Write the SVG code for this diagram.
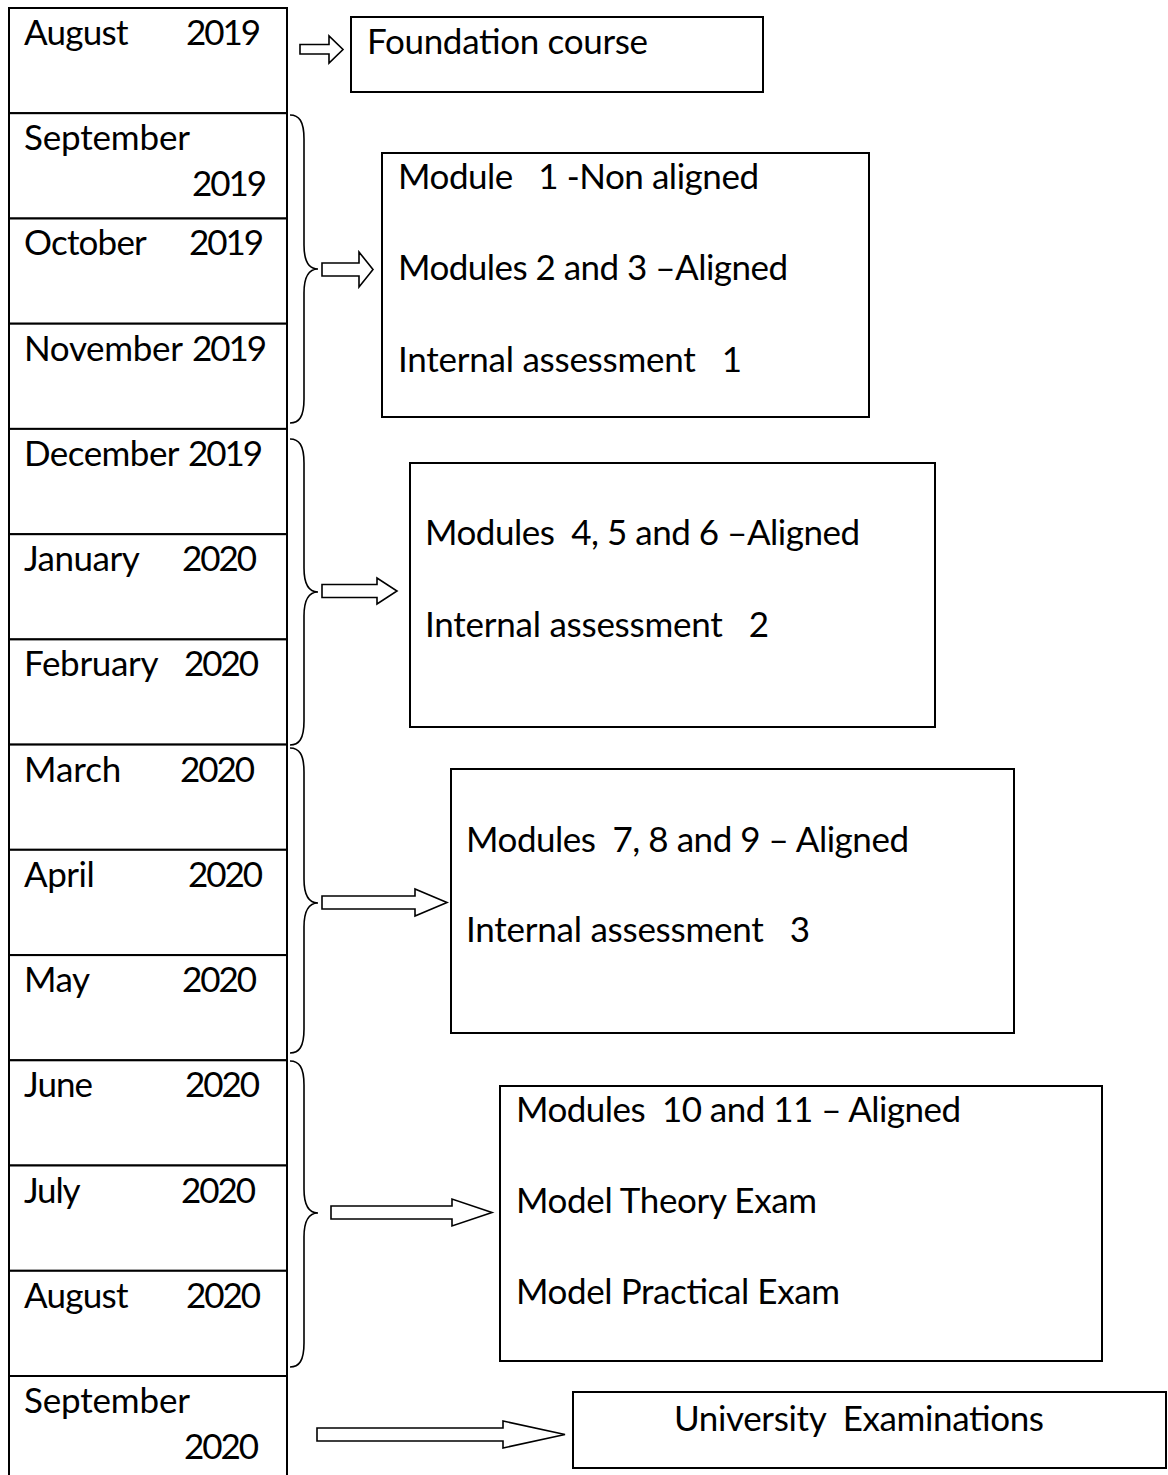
<svg xmlns="http://www.w3.org/2000/svg" width="1168" height="1475" viewBox="0 0 1168 1475" xml:space="preserve">
<style>
text { font-family: Lato, "Open Sans", "Liberation Sans", sans-serif; font-size: 35px; fill: #000; white-space: pre; }
.cell { fill: #fff; stroke: #000; stroke-width: 2; }
.box { fill: #fff; stroke: #000; stroke-width: 2; }
.brace { fill: none; stroke: #000; stroke-width: 1.6; }
.arrow { fill: #fff; stroke: #000; stroke-width: 1.6; stroke-linejoin: miter; }
</style>
<rect x="0" y="0" width="1168" height="1475" fill="#fff"/>

<g id="timeline">
  <g id="row-aug-2019"><rect class="cell" x="9" y="8" width="278" height="105.2"/><text x="24" y="45" textLength="104.6" lengthAdjust="spacing">August</text><text x="186" y="45" textLength="75" lengthAdjust="spacing">2019</text></g>
  <g id="row-sep-2019"><rect class="cell" x="9" y="113.2" width="278" height="105.3"/><text x="24" y="150" textLength="166" lengthAdjust="spacing">September</text><text x="192" y="196" textLength="75" lengthAdjust="spacing">2019</text></g>
  <g id="row-oct-2019"><rect class="cell" x="9" y="218.5" width="278" height="105.2"/><text x="24" y="255" textLength="122.8" lengthAdjust="spacing">October</text><text x="189" y="255" textLength="75" lengthAdjust="spacing">2019</text></g>
  <g id="row-nov-2019"><rect class="cell" x="9" y="323.7" width="278" height="105.2"/><text x="24" y="361" textLength="158.9" lengthAdjust="spacing">November</text><text x="192" y="361" textLength="75" lengthAdjust="spacing">2019</text></g>
  <g id="row-dec-2019"><rect class="cell" x="9" y="428.9" width="278" height="105.3"/><text x="24" y="466" textLength="155.6" lengthAdjust="spacing">December</text><text x="188" y="466" textLength="75" lengthAdjust="spacing">2019</text></g>
  <g id="row-jan-2020"><rect class="cell" x="9" y="534.2" width="278" height="105.2"/><text x="24" y="571" textLength="115.8" lengthAdjust="spacing">January</text><text x="182" y="571" textLength="75" lengthAdjust="spacing">2020</text></g>
  <g id="row-feb-2020"><rect class="cell" x="9" y="639.4" width="278" height="105.2"/><text x="24" y="676" textLength="134.6" lengthAdjust="spacing">February</text><text x="184" y="676" textLength="75" lengthAdjust="spacing">2020</text></g>
  <g id="row-mar-2020"><rect class="cell" x="9" y="744.6" width="278" height="105.2"/><text x="24" y="782" textLength="97.3" lengthAdjust="spacing">March</text><text x="180" y="782" textLength="75" lengthAdjust="spacing">2020</text></g>
  <g id="row-apr-2020"><rect class="cell" x="9" y="849.8" width="278" height="105.3"/><text x="24" y="887" textLength="70.7" lengthAdjust="spacing">April</text><text x="188" y="887" textLength="75" lengthAdjust="spacing">2020</text></g>
  <g id="row-may-2020"><rect class="cell" x="9" y="955.1" width="278" height="105.2"/><text x="24" y="992" textLength="66.1" lengthAdjust="spacing">May</text><text x="182" y="992" textLength="75" lengthAdjust="spacing">2020</text></g>
  <g id="row-jun-2020"><rect class="cell" x="9" y="1060.3" width="278" height="105.2"/><text x="24" y="1097" textLength="69.1" lengthAdjust="spacing">June</text><text x="185" y="1097" textLength="75" lengthAdjust="spacing">2020</text></g>
  <g id="row-jul-2020"><rect class="cell" x="9" y="1165.5" width="278" height="105.3"/><text x="24" y="1203" textLength="56.5" lengthAdjust="spacing">July</text><text x="181" y="1203" textLength="75" lengthAdjust="spacing">2020</text></g>
  <g id="row-aug-2020"><rect class="cell" x="9" y="1270.8" width="278" height="105.2"/><text x="24" y="1308" textLength="104.6" lengthAdjust="spacing">August</text><text x="186" y="1308" textLength="75" lengthAdjust="spacing">2020</text></g>
  <g id="row-sep-2020"><rect class="cell" x="9" y="1376" width="278" height="110"/><text x="24" y="1413" textLength="166" lengthAdjust="spacing">September</text><text x="184" y="1459" textLength="75" lengthAdjust="spacing">2020</text></g>
</g>

<g id="box-foundation"><rect class="box" x="351" y="17" width="412" height="75"/><text x="367" y="54" textLength="281" lengthAdjust="spacing">Foundation course</text></g>

<g id="box-modules-1-3"><rect class="box" x="382" y="153" width="487" height="264"/>
  <text x="398" y="189" textLength="361" lengthAdjust="spacing">Module   1 -Non aligned</text>
  <text x="398" y="280" textLength="390" lengthAdjust="spacing">Modules 2 and 3 –Aligned</text>
  <text x="398" y="372" textLength="344" lengthAdjust="spacing">Internal assessment   1</text>
</g>

<g id="box-modules-4-6"><rect class="box" x="410" y="463" width="525" height="264"/>
  <text x="425" y="545" textLength="435" lengthAdjust="spacing">Modules  4, 5 and 6 –Aligned</text>
  <text x="425" y="637" textLength="344" lengthAdjust="spacing">Internal assessment   2</text>
</g>

<g id="box-modules-7-9"><rect class="box" x="451" y="769" width="563" height="264"/>
  <text x="466" y="852" textLength="443" lengthAdjust="spacing">Modules  7, 8 and 9 – Aligned</text>
  <text x="466" y="942" textLength="344" lengthAdjust="spacing">Internal assessment   3</text>
</g>

<g id="box-modules-10-11"><rect class="box" x="500" y="1086" width="602" height="275"/>
  <text x="516" y="1122" textLength="445" lengthAdjust="spacing">Modules  10 and 11 – Aligned</text>
  <text x="516" y="1213" textLength="301" lengthAdjust="spacing">Model Theory Exam</text>
  <text x="516" y="1304" textLength="324" lengthAdjust="spacing">Model Practical Exam</text>
</g>

<g id="box-university"><rect class="box" x="573" y="1392" width="593" height="76"/>
  <text x="674" y="1431" textLength="370" lengthAdjust="spacing">University  Examinations</text>
</g>

<g id="connectors">
  <path class="brace" d="M290 115 C299 115 304 121 304 139 L304 245 C304 261 309 269 318 269 C309 269 304 277 304 293 L304 399 C304 417 299 423 290 423"/>
  <path class="brace" d="M290 439 C299 439 304 445 304 463 L304 568 C304 584 309 592 318 592 C309 592 304 600 304 616 L304 721 C304 739 299 745 290 745"/>
  <path class="brace" d="M290 748 C299 748 304 754 304 772 L304 879 C304 895 309 903 318 903 C309 903 304 911 304 927 L304 1029 C304 1047 299 1053 290 1053"/>
  <path class="brace" d="M290 1061 C299 1061 304 1067 304 1085 L304 1189 C304 1205 309 1213 318 1213 C309 1213 304 1221 304 1237 L304 1343 C304 1361 299 1367 290 1367"/>
  <polygon class="arrow" points="300,44.5 329,44.5 329,36 343,49.5 329,63 329,54 300,54"/>
  <polygon class="arrow" points="322,263 359,263 359,252 373,269.5 359,287 359,276 322,276"/>
  <polygon class="arrow" points="322,584.5 377,584.5 377,578 397,591 377,604 377,597.5 322,597.5"/>
  <polygon class="arrow" points="322,896 415,896 415,889 447,902.5 415,916 415,909 322,909"/>
  <polygon class="arrow" points="331,1206 452,1206 452,1199 492,1212.5 452,1226 452,1219 331,1219"/>
  <polygon class="arrow" points="317,1428 503,1428 503,1421 565,1434.5 503,1448 503,1441 317,1441"/>
</g>
</svg>
